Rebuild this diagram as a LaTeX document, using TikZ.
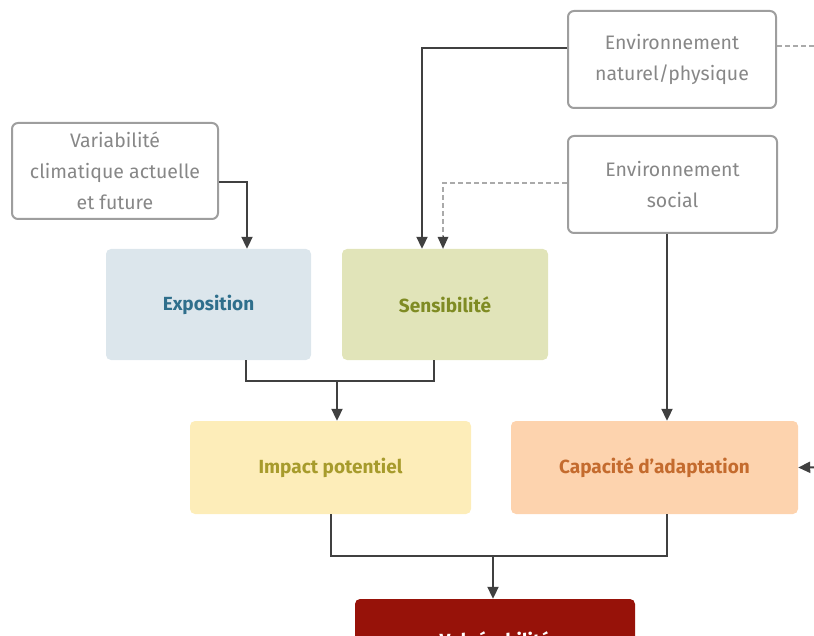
\documentclass[tikz,border=0pt]{standalone}
\usepackage{fontspec}
\setmainfont{Fira Sans}
\usetikzlibrary{arrows.meta,calc}
\definecolor{boxline}{HTML}{9E9E9E}
\definecolor{greytext}{HTML}{878787}
\definecolor{conn}{HTML}{404040}
\definecolor{dashc}{HTML}{AAAAAA}
\definecolor{expofill}{HTML}{DCE6EC}
\definecolor{expotext}{HTML}{2F6F8C}
\definecolor{sensfill}{HTML}{E1E4B9}
\definecolor{senstext}{HTML}{7F8B23}
\definecolor{impfill}{HTML}{FDEDB9}
\definecolor{imptext}{HTML}{A79B2C}
\definecolor{capfill}{HTML}{FDD3AE}
\definecolor{captext}{HTML}{C46B2E}
\definecolor{vulfill}{HTML}{971209}
\tikzset{
  greybox/.style={draw=boxline, line width=2pt, rounded corners=6pt, fill=white,
    text=greytext, align=center, font=\fontsize{19.5}{31}\selectfont, inner sep=0pt},
  colbox/.style={rounded corners=5pt, inner sep=0pt, align=center,
    font=\fontsize{19}{22}\selectfont\bfseries},
  conline/.style={draw=conn, line width=2pt},
  tip/.style={-{Triangle[length=12pt,width=11pt]}},
  dashline/.style={draw=dashc, line width=2pt, dash pattern=on 5pt off 3pt},
}
\begin{document}
\begin{tikzpicture}[x=1pt,y=-1pt]
\useasboundingbox (0,0) rectangle (814,636);
\clip (0,0) rectangle (814,636);
% grey boxes
\node[greybox, minimum width=208pt, minimum height=97pt] (envnat) at (672,59.5) {Environnement\\naturel/physique};
\node[greybox, minimum width=209pt, minimum height=97pt] (envsoc) at (672.5,184.5) {Environnement\\social};
\node[greybox, minimum width=206pt, minimum height=96pt] (var) at (115,171) {Variabilité\\climatique actuelle\\et future};
% coloured boxes
\node[colbox, fill=expofill, text=expotext, minimum width=205pt, minimum height=111pt] (expo) at (208.5,304.5) {Exposition};
\node[colbox, fill=sensfill, text=senstext, minimum width=206pt, minimum height=111pt] (sens) at (445,304.5) {Sensibilité};
\node[colbox, fill=impfill, text=imptext, minimum width=281pt, minimum height=93pt] (impact) at (330.5,467.5) {Impact potentiel};
\node[colbox, fill=capfill, text=captext, minimum width=287pt, minimum height=93pt] (cap) at (654.5,467.5) {Capacité d’adaptation};
\node[colbox, fill=vulfill, minimum width=280pt, minimum height=93pt] (vul) at (495,645.5) {};
\node[colbox, text=white, anchor=north] (vultext) at (495,631) {Vulnérabilité};
% junctions and outside ends
\coordinate (j1) at (337,381);
\coordinate (j2) at (493,556);
\coordinate (outA) at (830,46);
\coordinate (outB) at (830,467);
% connectors
\draw[conline, tip] (envnat.west |- 0,48) -| (sens.north -| 422,0);
\draw[dashline] (envsoc.west |- 0,183) -| ($(sens.north -| 443,0)+(0,-11)$);
\draw[conn, line width=0pt, fill=conn, tip] ($(sens.north -| 443,0)+(0,-12)$) -- (sens.north -| 443,0);
\draw[conline, tip] (var.east |- 0,182) -| (expo.north -| 247,0);
\draw[conline, tip] (envsoc.south -| 667,0) -- (cap.north -| 667,0);
\draw[conline] (expo.south -| 246,0) |- (j1) -| (sens.south -| 434,0);
\draw[conline, tip] (j1) -- (impact.north -| j1);
\draw[conline] (impact.south -| 331,0) |- (j2) -| (cap.south -| 667,0);
\draw[conline, tip] (j2) -- (vul.north -| j2);
\draw[dashline] (envnat.east |- 0,46) -- (outA);
\draw[conline, tip] (outB) -- (cap.east);
\end{tikzpicture}
\end{document}
